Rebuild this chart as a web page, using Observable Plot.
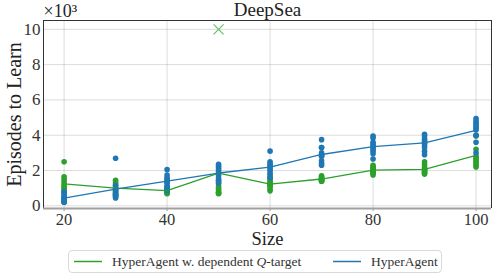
<!DOCTYPE html>
<html>
<head>
<meta charset="utf-8">
<script src="https://cdn.jsdelivr.net/npm/d3@7"></script>
<script src="https://cdn.jsdelivr.net/npm/@observablehq/plot@0.6"></script>
<style>
  html, body { margin: 0; padding: 0; background: #fff; }
  #wrap { position: relative; width: 498px; height: 276px; font-family: "Liberation Serif", serif; }
  #chart svg { display: block; overflow: visible; }
  #legend { position: absolute; left: 68px; top: 250px; width: 374px; height: 23px; border: 1px solid #d9d9d9; border-radius: 4px; box-sizing: border-box; color: #333; font-size: 13.5px; background: #fff; }
  #legend svg.sw { position: absolute; top: 9px; width: 28px; height: 3px; }
  #legend .lb { position: absolute; top: 2px; line-height: 17px; white-space: nowrap; }
</style>
</head>
<body>
<div id="wrap">
  <div id="chart"></div>
  <div id="legend">
    <svg class="sw" style="left:5px" viewBox="0 0 28 3"><line x1="0" x2="28" y1="1.5" y2="1.5" stroke="#2ca02c" stroke-width="1.5"/></svg>
    <div class="lb" style="left:43px">HyperAgent w. dependent <i>Q</i>-target</div>
    <svg class="sw" style="left:264px" viewBox="0 0 28 3"><line x1="0" x2="28" y1="1.5" y2="1.5" stroke="#1f77b4" stroke-width="1.5"/></svg>
    <div class="lb" style="left:302px">HyperAgent</div>
  </div>
</div>
<script>
const sizes = [20, 30, 40, 50, 60, 70, 80, 90, 100];

// Episodes to learn (x10^3), per run, HyperAgent w. dependent Q-target
const dependentRuns = [
  [2.5, 1.65, 1.5, 1.35, 1.2, 1.1, 1.0, 0.9, 0.8, 0.4],
  [1.45, 1.35, 1.25, 1.15, 1.05, 0.95, 0.85, 0.75, 0.65, 0.55],
  [1.1, 1.0, 0.95, 0.9, 0.85, 0.85, 0.8, 0.75, 0.7, 0.7],
  [1.4, 1.25, 1.1, 1.0, 0.9, 0.8, 0.75, 0.7, 0.7],
  [1.6, 1.5, 1.4, 1.3, 1.25, 1.2, 1.15, 1.1, 0.95, 0.85],
  [1.7, 1.65, 1.6, 1.55, 1.5, 1.5, 1.45, 1.45, 1.4, 1.4],
  [2.3, 2.2, 2.15, 2.1, 2.0, 2.0, 1.95, 1.9, 1.85, 1.75],
  [2.5, 2.35, 2.2, 2.1, 2.05, 2.0, 1.95, 1.9, 1.85, 1.8],
  [4.0, 3.95, 3.2, 2.8, 2.7, 2.6, 2.5, 2.4, 2.3, 2.2]
];
// runs that hit the cap (drawn as x)
const dependentFailSizes = [50];
const dependentFailValues = [10];
// mean line values
const dependentMean = [1.24, 1.0, 0.86, 1.86, 1.23, 1.52, 2.02, 2.07, 2.86];

// HyperAgent
const hyperRuns = [
  [0.8, 0.7, 0.6, 0.5, 0.45, 0.4, 0.3, 0.25, 0.2, 0.2],
  [2.7, 1.15, 1.0, 0.9, 0.8, 0.7, 0.65, 0.6, 0.5, 0.45],
  [2.05, 1.75, 1.6, 1.5, 1.4, 1.35, 1.25, 1.1, 1.0, 0.85],
  [2.35, 2.25, 2.15, 2.05, 1.95, 1.85, 1.7, 1.55, 1.45, 1.3],
  [3.1, 2.5, 2.4, 2.3, 2.2, 2.1, 2.0, 1.85, 1.75, 1.6],
  [3.75, 3.3, 3.3, 3.0, 2.85, 2.85, 2.8, 2.55, 2.4, 2.3],
  [3.95, 3.85, 3.6, 3.5, 3.4, 3.3, 3.2, 3.1, 2.95, 2.65],
  [4.05, 3.95, 3.8, 3.7, 3.6, 3.55, 3.45, 3.3, 3.1, 2.9],
  [4.95, 4.8, 4.7, 4.6, 4.5, 4.4, 4.3, 4.0, 3.6, 3.0]
];
const hyperMean = [0.44, 0.95, 1.4, 1.86, 2.19, 2.91, 3.35, 3.57, 4.28];

const xTicks = [20, 40, 60, 80, 100];
const yTicks = [0, 2, 4, 6, 8, 10];
const xDomain = [16, 103];
const yDomain = [-0.15, 10.5];

const GREEN = "#2ca02c", BLUE = "#1f77b4";

const flat = (runs) => sizes.flatMap((s, i) => runs[i].map(v => ({size: s, value: v})));
const depPts = flat(dependentRuns);
const hypPts = flat(hyperRuns);
const depLine = sizes.map((s, i) => ({size: s, value: dependentMean[i]}));
const hypLine = sizes.map((s, i) => ({size: s, value: hyperMean[i]}));
const failPts = dependentFailSizes.map((s, i) => ({size: s, value: dependentFailValues[i]}));

const chart = Plot.plot({
  width: 498,
  height: 249,
  marginLeft: 43,
  marginTop: 20,
  marginRight: 7,
  marginBottom: 41,
  style: {fontFamily: "Liberation Serif, serif", color: "#333", background: "#fff", overflow: "visible"},
  x: {domain: xDomain},
  y: {domain: yDomain},
  marks: [
    Plot.gridX(xTicks, {stroke: "#000", strokeOpacity: 0.14}),
    Plot.gridY(yTicks, {stroke: "#000", strokeOpacity: 0.14}),
    Plot.axisX(xTicks, {tickSize: 3, tickPadding: 2, fontSize: 16.5, label: null, stroke: "#999"}),
    Plot.axisY(yTicks, {tickSize: 0, tickPadding: 3, fontSize: 17, label: null}),
    Plot.dot(depPts, {x: "size", y: "value", r: 2.8, fill: GREEN}),
    Plot.dot(hypPts, {x: "size", y: "value", r: 2.8, fill: BLUE}),
    Plot.line(depLine, {x: "size", y: "value", stroke: GREEN, strokeWidth: 1.3}),
    Plot.line(hypLine, {x: "size", y: "value", stroke: BLUE, strokeWidth: 1.3}),
    Plot.dot(failPts, {x: "size", y: "value", symbol: "times", r: 4.6, stroke: "#5cbf5c", strokeWidth: 1.1}),
    Plot.ruleX([xDomain[0]], {stroke: "#333", strokeWidth: 1}),
    Plot.ruleX([xDomain[1]], {stroke: "#333", strokeWidth: 1}),
    Plot.ruleY([yDomain[1]], {stroke: "#333", strokeWidth: 1}),
    Plot.ruleY([yDomain[0]], {stroke: "#a0a0a0", strokeWidth: 2.2}),
    Plot.text(["DeepSea"], {frameAnchor: "top", lineAnchor: "middle", textAnchor: "middle", dy: -11, fontSize: 19, fill: "#222"}),
    Plot.text(["×10³"], {frameAnchor: "top-left", lineAnchor: "middle", textAnchor: "start", dy: -9, dx: 0, fontSize: 18, fill: "#222"}),
    Plot.text(["Size"], {frameAnchor: "bottom", lineAnchor: "middle", textAnchor: "middle", dy: 31, fontSize: 18.5, fill: "#222"}),
    Plot.text(["Episodes to Learn"], {frameAnchor: "left", lineAnchor: "middle", textAnchor: "middle", dx: -29, rotate: -90, fontSize: 20, fill: "#222"})
  ]
});
document.getElementById("chart").appendChild(chart);
</script>
</body>
</html>
